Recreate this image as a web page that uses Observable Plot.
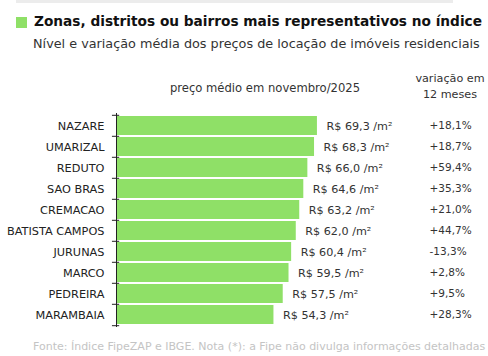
<!DOCTYPE html>
<html><head><meta charset="utf-8">
<script src="https://cdn.jsdelivr.net/npm/d3@7"></script>
<script src="https://cdn.jsdelivr.net/npm/@observablehq/plot@0.6"></script>
<style>
body{margin:0;background:#fff;}
#wrap{position:relative;width:488px;height:356px;overflow:hidden;font-family:"DejaVu Sans",sans-serif;color:#222;}
#topband{position:absolute;left:16px;top:0;width:437px;height:3px;background:#ececec;}
#sq{position:absolute;left:16px;top:17px;width:11px;height:11px;background:#8fe067;}
#title{position:absolute;left:34px;top:13px;font-size:13.7px;font-weight:bold;white-space:nowrap;color:#111;}
#subtitle{position:absolute;left:33px;top:36px;font-size:12.8px;white-space:nowrap;color:#333;}
#h1{position:absolute;left:265px;top:81px;transform:translateX(-50%);font-size:11.6px;white-space:nowrap;color:#333;}
#h2{position:absolute;left:450px;top:71px;transform:translateX(-50%);font-size:11.2px;white-space:nowrap;text-align:center;line-height:16px;color:#333;}
#chart{position:absolute;left:0;top:105px;}
#foot{position:absolute;left:33px;top:340px;font-size:11px;white-space:nowrap;color:#c4c4c4;}
</style></head>
<body>
<div id="wrap">
<div id="topband"></div>
<div id="sq"></div>
<div id="title">Zonas, distritos ou bairros mais representativos no índice</div>
<div id="subtitle">Nível e variação média dos preços de locação de imóveis residenciais</div>
<div id="h1">preço médio em novembro/2025</div>
<div id="h2">variação em<br>12 meses</div>
<div id="chart"></div>
<div id="foot">Fonte: Índice FipeZAP e IBGE. Nota (*): a Fipe não divulga informações detalhadas</div>
</div>
<script>
const bairros = ["NAZARE","UMARIZAL","REDUTO","SAO BRAS","CREMACAO","BATISTA CAMPOS","JURUNAS","MARCO","PEDREIRA","MARAMBAIA"];
const precos = [69.3, 68.3, 66.0, 64.6, 63.2, 62.0, 60.4, 59.5, 57.5, 54.3];
const variacoes = [18.1, 18.7, 59.4, 35.3, 21.0, 44.7, -13.3, 2.8, 9.5, 28.3];

const data = bairros.map((b, i) => ({bairro: b, preco: precos[i], variacao: variacoes[i]}));
const fmt = v => v.toFixed(1).replace(".", ",");

const W = 488, H = 230, MT = 8, MB = 8, ML = 116;
const step = (H - MT - MB) / bairros.length;

const plot = Plot.plot({
  width: W, height: H,
  marginTop: MT, marginBottom: MB, marginLeft: ML, marginRight: 0,
  style: {fontFamily: '"DejaVu Sans", sans-serif', color: "#222", background: "transparent"},
  x: {domain: [0, 128.3], axis: null},
  y: {domain: bairros, paddingInner: 0.1, paddingOuter: 0.05, label: null},
  marks: [
    Plot.barX(data, {y: "bairro", x1: 0.35, x2: "preco", fill: "#8fe067"}),
    Plot.ruleX([0], {stroke: "#222", strokeWidth: 1}),
    Plot.ruleY(bairros, {y: d => d, x1: -1.4, x2: 1.1, dy: -step / 2, stroke: "#222"}),
    Plot.ruleY(bairros.slice(-1), {y: d => d, x1: -1.4, x2: 1.1, dy: step / 2, stroke: "#222"}),
    Plot.axisY({tickSize: 0, tickPadding: 12, fontSize: 11.3, label: null, fill: "#222"}),
    Plot.text(data, {y: "bairro", x: "preco", text: d => `R$ ${fmt(d.preco)} /m²`, textAnchor: "start", dx: 9, fontSize: 11.2, fill: "#333"}),
    Plot.text(data, {y: "bairro", frameAnchor: "right", text: d => (d.variacao >= 0 ? "+" : "-") + fmt(Math.abs(d.variacao)) + "%", textAnchor: "start", dx: -59, fontSize: 10.5, fill: "#333"})
  ]
});
document.getElementById("chart").appendChild(plot);
</script>
</body></html>
